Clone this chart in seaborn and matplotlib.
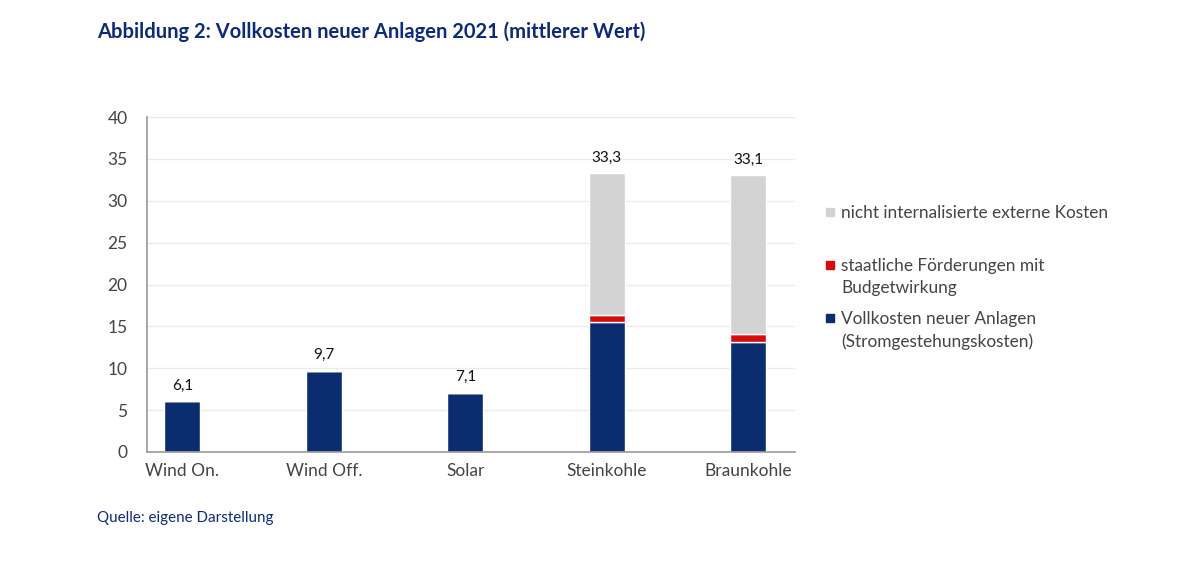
import matplotlib
matplotlib.use("Agg")
import matplotlib.pyplot as plt
import seaborn as sns
import pandas as pd
from matplotlib.patches import Rectangle

# Daten (ct/kWh)
kategorien = ["Wind On.", "Wind Off.", "Solar", "Steinkohle", "Braunkohle"]
vollkosten = [6.1, 9.7, 7.1, 15.5, 13.1]
foerderung = [0.0, 0.0, 0.0, 0.9, 1.0]
externe = [0.0, 0.0, 0.0, 16.9, 19.0]
y_ticks = [0, 5, 10, 15, 20, 25, 30, 35, 40]

legende = ["nicht internalisierte externe Kosten",
           "staatliche Förderungen mit\nBudgetwirkung",
           "Vollkosten neuer Anlagen\n(Stromgestehungskosten)"]

df = pd.DataFrame({"kat": kategorien, "voll": vollkosten,
                   "foerd": foerderung, "ext": externe})
df["b2"] = df["voll"] + df["foerd"]
df["summe"] = df["voll"] + df["foerd"] + df["ext"]

sns.set_style("white")
plt.rcParams["font.family"] = ["Lato", "DejaVu Sans"]

blau = "#0b2c6f"
rot = "#d50c0c"
grau = "#d3d3d3"
navy = "#0d2a7a"

W, H = 1200, 568
fig = plt.figure(figsize=(12, 5.68), dpi=100)
ax = fig.add_axes([147 / W, 1 - 452 / H, 648 / W, 335 / H])

sns.barplot(data=df, x="kat", y="voll", color=blau, width=0.255, ax=ax,
            saturation=1)
sns.barplot(data=df, x="kat", y="foerd", color=rot, width=0.255, ax=ax,
            saturation=1, bottom=df["voll"])
sns.barplot(data=df, x="kat", y="ext", color=grau, width=0.255, ax=ax,
            saturation=1, bottom=df["b2"])

for i, s in enumerate(df["summe"]):
    ax.text(i, s + 1.0, f"{s:.1f}".replace(".", ","), ha="center",
            va="bottom", fontsize=11, color="#111111")

ax.set_xlim(-0.25, 4.33)
ax.set_ylim(0, 40)
ax.set_yticks(y_ticks)
ax.yaxis.grid(True, color="#ebebeb", linewidth=1)
ax.set_axisbelow(True)
ax.set_xlabel("")
ax.set_ylabel("")
for side in ["top", "right"]:
    ax.spines[side].set_visible(False)
for side in ["left", "bottom"]:
    ax.spines[side].set_color("#9a9a9a")
    ax.spines[side].set_linewidth(1.2)
ax.tick_params(axis="both", length=0, labelsize=12.5, colors="#444444")
ax.tick_params(axis="y", pad=14)
ax.tick_params(axis="x", pad=8)

# Legende (rechts, Reihenfolge wie im Original)
leg_farben = [grau, rot, blau]
leg_y = [212, 265, 318]
for farbe, text, y in zip(leg_farben, legende, leg_y):
    fig.patches.append(Rectangle((826 / W, 1 - (y + 4) / H), 8 / W, 8 / H,
                                 transform=fig.transFigure, color=farbe))
    fig.text(841 / W, 1 - (y - 7) / H, text, fontsize=12.4,
             color="#444444", va="top", linespacing=1.45)

fig.text(97 / W, 1 - 32 / H,
         "Abbildung 2: Vollkosten neuer Anlagen 2021 (mittlerer Wert)",
         fontsize=14.5, fontweight="bold", color=navy, va="center")
fig.text(97 / W, 1 - 518 / H, "Quelle: eigene Darstellung",
         fontsize=10.9, color=navy, va="center")

fig.savefig("out.png", dpi=100)
